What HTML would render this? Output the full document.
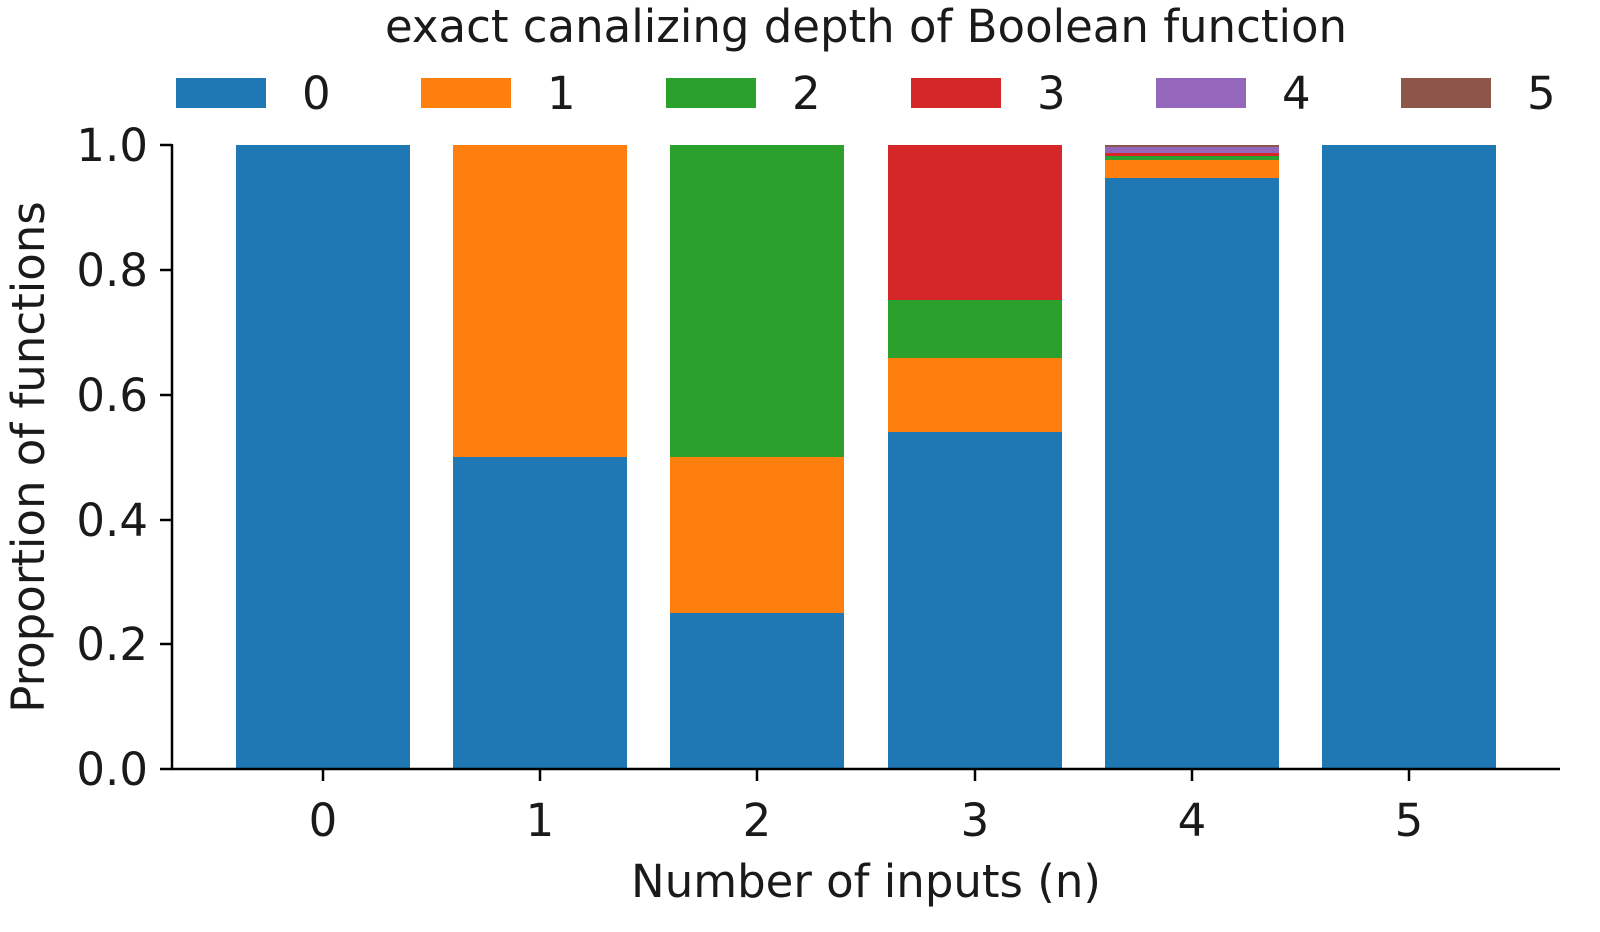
<!DOCTYPE html><html><head><style>body{margin:0;background:#fff}svg{display:block}text{font-family:"DejaVu Sans","Liberation Sans",sans-serif;fill:#1a1a1a}</style></head><body>
<svg width="1600" height="932" xmlns="http://www.w3.org/2000/svg">
<text x="866" y="42" font-size="45" text-anchor="middle">exact canalizing depth of Boolean function</text>
<g font-size="45">
<rect x="176" y="78" width="90" height="30" fill="#1f77b4"/><text x="302" y="109">0</text>
<rect x="421" y="78" width="90" height="30" fill="#ff7f0e"/><text x="547" y="109">1</text>
<rect x="666" y="78" width="90" height="30" fill="#2ca02c"/><text x="792" y="109">2</text>
<rect x="911" y="78" width="90" height="30" fill="#d62728"/><text x="1037" y="109">3</text>
<rect x="1156" y="78" width="90" height="30" fill="#9467bd"/><text x="1282" y="109">4</text>
<rect x="1401" y="78" width="90" height="30" fill="#8c564b"/><text x="1527" y="109">5</text>
</g>
<rect x="236" y="145" width="174" height="624" fill="#1f77b4"/>
<rect x="453" y="145" width="174" height="312" fill="#ff7f0e"/>
<rect x="453" y="457" width="174" height="312" fill="#1f77b4"/>
<rect x="670" y="145" width="174" height="312" fill="#2ca02c"/>
<rect x="670" y="457" width="174" height="156" fill="#ff7f0e"/>
<rect x="670" y="613" width="174" height="156" fill="#1f77b4"/>
<rect x="888" y="145" width="174" height="155" fill="#d62728"/>
<rect x="888" y="300" width="174" height="58" fill="#2ca02c"/>
<rect x="888" y="358" width="174" height="74" fill="#ff7f0e"/>
<rect x="888" y="432" width="174" height="337" fill="#1f77b4"/>
<rect x="1105" y="145" width="174" height="2" fill="#8c564b"/>
<rect x="1105" y="147" width="174" height="6" fill="#9467bd"/>
<rect x="1105" y="153" width="174" height="3" fill="#d62728"/>
<rect x="1105" y="156" width="174" height="4" fill="#2ca02c"/>
<rect x="1105" y="160" width="174" height="18" fill="#ff7f0e"/>
<rect x="1105" y="178" width="174" height="591" fill="#1f77b4"/>
<rect x="1322" y="145" width="174" height="624" fill="#1f77b4"/>
<g stroke="#000" stroke-width="2.5">
<line x1="172" y1="144" x2="172" y2="770"/><line x1="171" y1="769" x2="1560" y2="769"/>
<line x1="160" y1="769" x2="172" y2="769"/><line x1="160" y1="644" x2="172" y2="644"/><line x1="160" y1="520" x2="172" y2="520"/><line x1="160" y1="395" x2="172" y2="395"/><line x1="160" y1="270" x2="172" y2="270"/><line x1="160" y1="145" x2="172" y2="145"/>
<line x1="323" y1="769" x2="323" y2="781"/><line x1="540" y1="769" x2="540" y2="781"/><line x1="757" y1="769" x2="757" y2="781"/><line x1="975" y1="769" x2="975" y2="781"/><line x1="1192" y1="769" x2="1192" y2="781"/><line x1="1409" y1="769" x2="1409" y2="781"/>
</g>
<g font-size="45" text-anchor="end">
<text x="148" y="785">0.0</text><text x="148" y="660">0.2</text><text x="148" y="536">0.4</text><text x="148" y="411">0.6</text><text x="148" y="286">0.8</text><text x="148" y="161">1.0</text>
</g>
<g font-size="45" text-anchor="middle">
<text x="323" y="836">0</text><text x="540" y="836">1</text><text x="757" y="836">2</text><text x="975" y="836">3</text><text x="1192" y="836">4</text><text x="1409" y="836">5</text>
<text x="866" y="897">Number of inputs (n)</text>
<text transform="translate(44,457) rotate(-90)">Proportion of functions</text>
</g>
</svg></body></html>
